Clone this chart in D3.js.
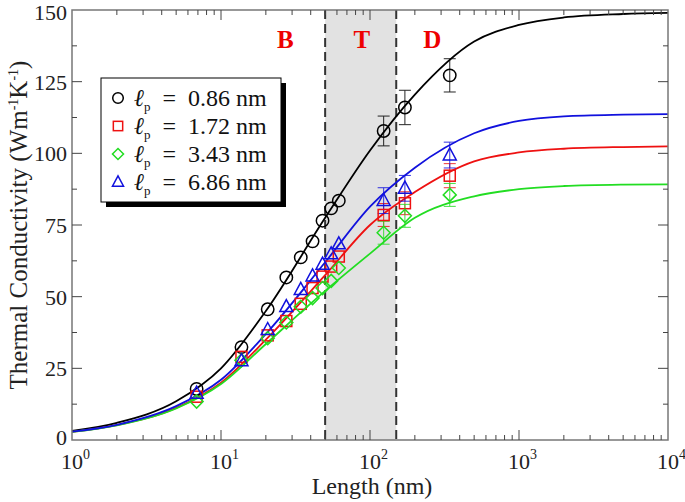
<!DOCTYPE html>
<html><head><meta charset="utf-8">
<script src="https://cdn.jsdelivr.net/npm/d3@7"></script>
<style>body{margin:0;background:#fff}svg{display:block}</style>
</head><body>
<svg id="c" width="685" height="502"></svg>
<script>
// ---- data ----
const lengths = [6.86, 13.72, 20.58, 27.44, 34.3, 41.16, 48.02, 54.88, 61.74, 123.5, 171.5, 343];
const labels = ["0.86", "1.72", "3.43", "6.86"];
const kBlack = [17.8, 32.4, 45.6, 56.7, 63.7, 69.3, 76.5, 80.8, 83.5, 107.8, 116.0, 127.2];
const kRed   = [15.1, 29.0, 36.5, 41.5, 47.5, 53.0, 57.0, 60.5, 64.0, 78.5, 82.6, 92.2];
const kGreen = [13.4, 27.8, 35.5, 41.0, 46.5, 49.5, 53.0, 55.5, 60.0, 72.3, 78.2, 85.5];
const kBlue  = [16.3, 27.6, 38.5, 46.5, 52.5, 57.2, 61.3, 64.9, 68.4, 83.5, 87.8, 99.4];
const errBlack = [0, 0, 0, 0, 0, 0, 0, 0, 0, 5.2, 6.0, 5.8];
const errRed   = [0, 0, 0, 0, 0, 0, 0, 0, 0, 4.0, 4.0, 4.2];
const errGreen = [0, 0, 0, 0, 0, 0, 0, 0, 0, 4.0, 4.0, 4.0];
const errBlue  = [0, 0, 0, 0, 0, 0, 0, 0, 0, 4.5, 4.5, 4.5];
const fitL     = [1, 2, 5, 10, 20, 50, 100, 200, 500, 1000, 2000, 5000, 10000];
const fitBlack = [3.2, 6.0, 13.5, 25.0, 45.0, 77.5, 101.0, 120.5, 139.0, 144.8, 147.4, 148.6, 149.0];
const fitRed   = [2.8, 5.2, 11.2, 20.0, 35.0, 57.5, 75.0, 86.5, 97.2, 100.3, 101.6, 102.2, 102.4];
const fitGreen = [2.8, 5.1, 11.0, 19.5, 33.5, 52.0, 65.0, 77.5, 85.0, 87.5, 88.6, 89.1, 89.2];
const fitBlue  = [2.9, 5.3, 11.8, 21.0, 37.0, 62.0, 81.4, 95.0, 107.0, 111.3, 112.9, 113.5, 113.7];
const xTicks = [0, 1, 2, 3, 4];
const yTicks = [0, 25, 50, 75, 100, 125, 150];
const regionBounds = [50, 150];
const regionLabels = [["B", 27], ["T", 88], ["D", 262]];

const series = [
  {name: labels[0], color: "#000000", k: kBlack, e: errBlack, fit: fitBlack, sym: "circle"},
  {name: labels[1], color: "#ee1111", k: kRed, e: errRed, fit: fitRed, sym: "square"},
  {name: labels[2], color: "#22dd22", k: kGreen, e: errGreen, fit: fitGreen, sym: "diamond"},
  {name: labels[3], color: "#1111dd", k: kBlue, e: errBlue, fit: fitBlue, sym: "triangle"}
];

const L = 72, R = 668, T = 10, B = 440;
const x = d3.scaleLog().domain([1, 10000]).range([L, R]);
const y = d3.scaleLinear().domain([0, 150]).range([B, T]);
const svg = d3.select("#c");
const serif = "'Liberation Serif','DejaVu Serif',serif";

// shaded region
svg.append("rect").attr("x", x(regionBounds[0])).attr("y", T)
  .attr("width", x(regionBounds[1]) - x(regionBounds[0])).attr("height", B - T)
  .attr("fill", "#e2e2e2");

// region labels
regionLabels.forEach(([t, v]) => {
  svg.append("text").attr("x", x(v)).attr("y", 48).attr("text-anchor", "middle")
    .attr("font-family", serif).attr("font-weight", "bold").attr("font-size", 25)
    .attr("fill", "#ee0000").text(t);
});

// dashed lines
regionBounds.forEach(v => {
  svg.append("line").attr("x1", x(v)).attr("x2", x(v)).attr("y1", T).attr("y2", B)
    .attr("stroke", "#333").attr("stroke-width", 2).attr("stroke-dasharray", "9,5");
});

// fit curves
const line = d3.line().curve(d3.curveMonotoneX);
series.forEach(s => {
  svg.append("path").attr("d", line(fitL.map((l, i) => [x(l), y(s.fit[i])])))
    .attr("fill", "none").attr("stroke", s.color).attr("stroke-width", 1.8);
});

// error bars
series.forEach(s => {
  const g = svg.append("g").attr("stroke", s.color).attr("stroke-width", 1).attr("opacity", 0.85);
  lengths.forEach((l, i) => {
    if (!s.e[i]) return;
    const cx = x(l), y1 = y(s.k[i] - s.e[i]), y2 = y(s.k[i] + s.e[i]);
    g.append("line").attr("x1", cx).attr("x2", cx).attr("y1", y1).attr("y2", y2);
    g.append("line").attr("x1", cx - 6).attr("x2", cx + 6).attr("y1", y1).attr("y2", y1);
    g.append("line").attr("x1", cx - 6).attr("x2", cx + 6).attr("y1", y2).attr("y2", y2);
  });
});

// markers
function marker(g, sym, cx, cy, color, sc) {
  sc = sc || 1;
  let el;
  if (sym === "circle") el = g.append("circle").attr("cx", cx).attr("cy", cy).attr("r", 6.2 * sc);
  else if (sym === "square") { const h = 5.5 * sc; el = g.append("rect").attr("x", cx - h).attr("y", cy - h).attr("width", 2 * h).attr("height", 2 * h); }
  else if (sym === "diamond") { const h = 6.5 * sc; el = g.append("path").attr("d", `M${cx},${cy - h}L${cx + h},${cy}L${cx},${cy + h}L${cx - h},${cy}Z`); }
  else { const h = 6.5 * sc; el = g.append("path").attr("d", `M${cx},${cy - h * 1.1}L${cx + h},${cy + h * 0.75}L${cx - h},${cy + h * 0.75}Z`); }
  el.attr("fill", "none").attr("stroke", color).attr("stroke-width", 1.5);
}
series.forEach(s => {
  const g = svg.append("g");
  lengths.forEach((l, i) => marker(g, s.sym, x(l), y(s.k[i]), s.color));
});

// axes frame and ticks
const axisColor = "#777";
svg.append("rect").attr("x", L).attr("y", T).attr("width", R - L).attr("height", B - T)
  .attr("fill", "none").attr("stroke", axisColor).attr("stroke-width", 1.5);
const tg = svg.append("g").attr("stroke", "#444").attr("stroke-width", 1);
for (let d = 0; d < 4; d++) {
  for (let m = 1; m < 10; m++) {
    const v = Math.pow(10, d) * m, px = x(v), len = m === 1 ? 10 : 5;
    if (m === 1 && d === 0) continue;
    tg.append("line").attr("x1", px).attr("x2", px).attr("y1", B).attr("y2", B - len);
    tg.append("line").attr("x1", px).attr("x2", px).attr("y1", T).attr("y2", T + len);
  }
}
for (let v = 12.5; v < 150; v += 12.5) {
  const py = y(v), len = (v % 25 === 0) ? 10 : 5;
  tg.append("line").attr("x1", L).attr("x2", L + len).attr("y1", py).attr("y2", py);
  tg.append("line").attr("x1", R).attr("x2", R - len).attr("y1", py).attr("y2", py);
}

// tick labels
yTicks.forEach(v => {
  svg.append("text").attr("x", 67).attr("y", y(v) + (v === 0 ? 5 : (v === 150 ? 10 : 8))).attr("text-anchor", "end")
    .attr("font-family", serif).attr("font-size", 22).attr("fill", "#222").text(v);
});
xTicks.forEach(p => {
  const px = x(Math.pow(10, p));
  svg.append("text").attr("x", px).attr("y", 469).attr("text-anchor", "middle")
    .attr("font-family", serif).attr("font-size", 22).attr("fill", "#222").text("10");
  svg.append("text").attr("x", px + 11).attr("y", 459)
    .attr("font-family", serif).attr("font-size", 14).attr("fill", "#222").text(p);
});

// axis titles
svg.append("text").attr("x", 372).attr("y", 494).attr("text-anchor", "middle")
  .attr("font-family", serif).attr("font-size", 24).attr("fill", "#222").text("Length (nm)");
const yt = svg.append("text").attr("transform", "translate(27,225) rotate(-90)").attr("text-anchor", "middle")
  .attr("font-family", serif).attr("font-size", 25).attr("fill", "#222");
yt.append("tspan").text("Thermal Conductivity (Wm");
yt.append("tspan").attr("font-size", 14).attr("dy", -9).text("-1");
yt.append("tspan").attr("dy", 9).text("K");
yt.append("tspan").attr("font-size", 14).attr("dy", -9).text("-1");
yt.append("tspan").attr("dy", 9).text(")");

// legend
const lg = svg.append("g");
lg.append("rect").attr("x", 106).attr("y", 83).attr("width", 180).attr("height", 124).attr("fill", "#000");
lg.append("rect").attr("x", 101).attr("y", 78).attr("width", 180).attr("height", 124)
  .attr("fill", "#fff").attr("stroke", "#000").attr("stroke-width", 1);
series.forEach((s, i) => {
  const cy = 98 + i * 28;
  marker(lg, s.sym, 118, cy, s.color, 0.85);
  const t = lg.append("text").attr("x", 134).attr("y", cy + 8)
    .attr("font-family", serif).attr("font-size", 24).attr("fill", "#111");
  t.append("tspan").attr("font-style", "italic").text("\u2113");
  t.append("tspan").attr("font-size", 13).attr("dy", 5).text("p");
  t.append("tspan").attr("dy", -5).text("\u2002=\u2002" + s.name + " nm");
});
</script>
</body></html>
